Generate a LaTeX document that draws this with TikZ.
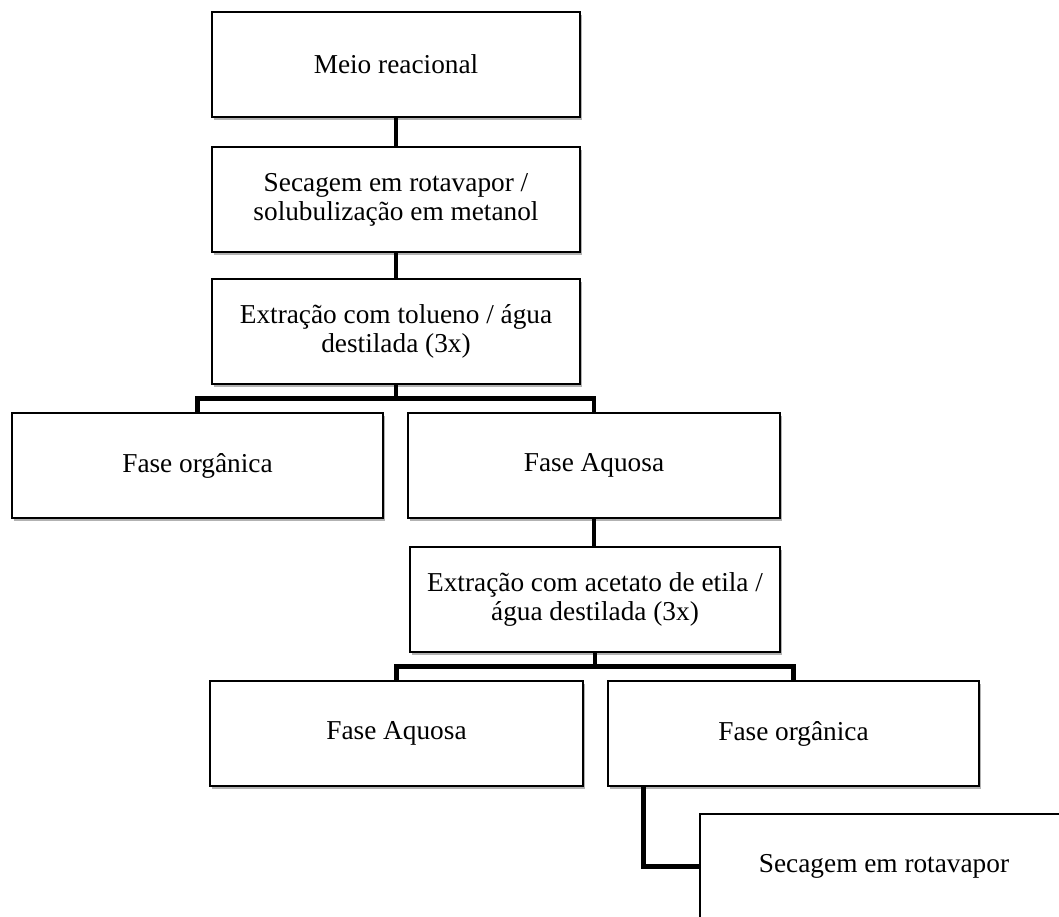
\documentclass[tikz,border=0pt]{standalone}
\usepackage{fontspec}
\setmainfont{Liberation Serif}
\usetikzlibrary{shadows}
\tikzset{
  procbox/.style={draw=black, line width=2.6pt, fill=white, rectangle,
    minimum width=#1, minimum height=105pt, inner sep=0pt, align=center,
    font=\fontsize{27.3}{29}\selectfont,
    drop shadow={shadow xshift=1.5pt, shadow yshift=-2.5pt, opacity=0.3, fill=black}},
  procbox/.default=370pt,
  link/.style={draw=black, line width=4.8pt}
}
\begin{document}
\begin{tikzpicture}[x=1pt,y=-1pt]
\clip (0,0) rectangle (1059,916);
\fill[white] (0,0) rectangle (1059,916);
\node[procbox=368pt] (m1) at (396,64.5) {Meio reacional};
\node[procbox=368pt] (s2) at (396,199.5) {Secagem em rotavapor /\\solubulização em metanol};
\node[procbox=368pt] (e3) at (396,331.5) {Extração com tolueno / água\\destilada (3x)};
\node[procbox=371pt] (fo4) at (197.5,465.5) {Fase orgânica};
\node[procbox=372pt] (fa5) at (594,465.5) {Fase Aquosa};
\node[procbox=370pt] (e6) at (595,599.5) {Extração com acetato de etila /\\água destilada (3x)};
\node[procbox=373pt] (fa7) at (396.5,733.5) {Fase Aquosa};
\node[procbox=371pt] (fo8) at (793.5,733.5) {Fase orgânica};
\node[procbox=368pt] (s9) at (884,866.5) {Secagem em rotavapor};
\draw[link] (m1.south) -- (s2.north);
\draw[link] (s2.south) -- (e3.north);
\draw[link] (e3.south) -- ++(0,13) coordinate (b1);
\draw[link] (b1) -| (fo4.north);
\draw[link] (b1) -| (fa5.north);
\draw[link] (fa5.south) -- (fa5.south |- e6.north);
\draw[link] (e6.south) -- ++(0,13) coordinate (b2);
\draw[link] (b2) -| (fa7.north);
\draw[link] (b2) -| (fo8.north);
\draw[link] ([xshift=37pt]fo8.south west) |- (s9.west);
\end{tikzpicture}
\end{document}
